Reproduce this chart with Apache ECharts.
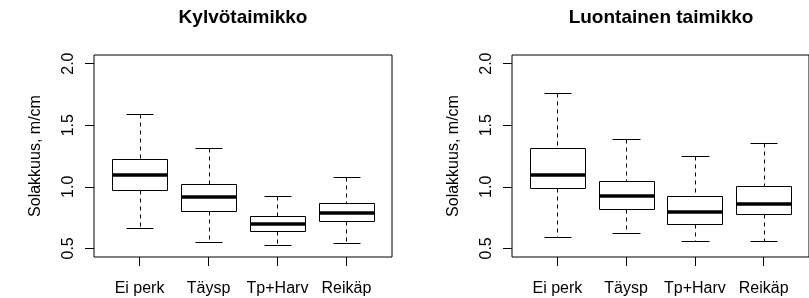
<!DOCTYPE html>
<html>
<head>
<meta charset="utf-8">
<title>Solakkuus</title>
<script src="https://cdn.jsdelivr.net/npm/echarts@6/dist/echarts.min.js"></script>
<style>
  html, body { margin: 0; padding: 0; background: #fff; }
  #main { width: 809px; height: 298px; }
</style>
</head>
<body>
<div id="main"></div>
<script type="text/javascript">
// luokat ja tikit
var categories = ['Ei perk', 'Täysp', 'Tp+Harv', 'Reikäp'];
var yTicks = [0.5, 1.0, 1.5, 2.0];
var panelTitles = ['Kylvötaimikko', 'Luontainen taimikko'];

// Kylvötaimikko: min, Q1, mediaani, Q3, max
var kylvoMin = [0.666, 0.552, 0.525, 0.541];
var kylvoQ1  = [0.972, 0.804, 0.641, 0.722];
var kylvoMed = [1.094, 0.915, 0.701, 0.790];
var kylvoQ3  = [1.227, 1.026, 0.763, 0.872];
var kylvoMax = [1.588, 1.317, 0.923, 1.080];

// Luontainen taimikko
var luontMin = [0.589, 0.625, 0.557, 0.557];
var luontQ1  = [0.988, 0.820, 0.701, 0.782];
var luontMed = [1.094, 0.923, 0.796, 0.864];
var luontQ3  = [1.317, 1.051, 0.929, 1.010];
var luontMax = [1.764, 1.384, 1.249, 1.357];

var FONT = 'Liberation Sans, Arial, sans-serif';

function boxData(mins, q1, med, q3, maxs) {
    var out = [];
    for (var i = 0; i < categories.length; i++) {
        out.push([i + 1, mins[i], q1[i], med[i], q3[i], maxs[i]]);
    }
    return out;
}

function px(v) { return Math.round(v) + 0.5; }

// R-tyylinen laatikko: katkoviivaviikset, paksu mediaani
function renderBox(params, api) {
    var x = api.value(0);
    var lo = api.coord([x, api.value(1)]);
    var q1 = api.coord([x, api.value(2)]);
    var md = api.coord([x, api.value(3)]);
    var q3 = api.coord([x, api.value(4)]);
    var hi = api.coord([x, api.value(5)]);
    var bw = api.size([0.8, 0])[0];
    var cx = px(lo[0]);
    var l = px(lo[0] - bw / 2), r = px(lo[0] + bw / 2);
    var cl = px(lo[0] - bw / 4), cr = px(lo[0] + bw / 4);
    var black = {stroke: '#000', lineWidth: 1, fill: null};
    var dashed = {stroke: '#000', lineWidth: 1, lineDash: [4, 4]};
    return {
        type: 'group',
        children: [
            {type: 'line', shape: {x1: cx, y1: px(hi[1]), x2: cx, y2: px(q3[1])}, style: dashed},
            {type: 'line', shape: {x1: cx, y1: px(q1[1]), x2: cx, y2: px(lo[1])}, style: dashed},
            {type: 'line', shape: {x1: cl, y1: px(hi[1]), x2: cr, y2: px(hi[1])}, style: black},
            {type: 'line', shape: {x1: cl, y1: px(lo[1]), x2: cr, y2: px(lo[1])}, style: black},
            {type: 'rect', shape: {x: l, y: px(q3[1]), width: r - l, height: px(q1[1]) - px(q3[1])},
             style: {stroke: '#000', lineWidth: 1, fill: '#fff'}},
            {type: 'line', shape: {x1: l, y1: Math.round(md[1]), x2: r, y2: Math.round(md[1])},
             style: {stroke: '#000', lineWidth: 3.5}}
        ]
    };
}

var grids = [
    {left: 94, top: 55, width: 298, height: 202},
    {left: 512, top: 55, width: 298, height: 202}
];

var xAxes = [], yAxes = [];
grids.forEach(function (g, i) {
    xAxes.push({
        type: 'value', gridIndex: i, min: 0.34, max: 4.66,
        axisLine: {show: false},
        splitLine: {show: false},
        axisTick: {show: true, length: 9, customValues: [1, 2, 3, 4],
                   lineStyle: {color: '#000', width: 1}},
        axisLabel: {customValues: [1, 2, 3, 4], margin: 24,
                    color: '#000', fontFamily: FONT, fontSize: 16,
                    formatter: function (v) { return categories[Math.round(v) - 1]; }}
    });
    yAxes.push({
        type: 'value', gridIndex: i, min: 0.43, max: 2.07,
        name: 'Solakkuus, m/cm', nameLocation: 'middle', nameGap: 50,
        nameTextStyle: {color: '#000', fontFamily: FONT, fontSize: 16},
        axisLine: {show: false},
        splitLine: {show: false},
        axisTick: {show: true, length: 9, customValues: yTicks,
                   lineStyle: {color: '#000', width: 1}},
        axisLabel: {customValues: yTicks, rotate: 90, margin: 17,
                    color: '#000', fontFamily: FONT, fontSize: 16,
                    formatter: function (v) { return v.toFixed(1); }}
    });
});

var myChart = echarts.init(document.getElementById('main'), null, {renderer: 'canvas'});
myChart.setOption({
    animation: false,
    backgroundColor: '#fff',
    title: [
        {text: panelTitles[0], left: 243, top: 8, textAlign: 'center', padding: 0,
         textStyle: {fontFamily: FONT, fontSize: 19, fontWeight: 'bold', color: '#000'}},
        {text: panelTitles[1], left: 661, top: 8, textAlign: 'center', padding: 0,
         textStyle: {fontFamily: FONT, fontSize: 19, fontWeight: 'bold', color: '#000'}}
    ],
    grid: grids.map(function (g) {
        return Object.assign({show: true, borderColor: '#000', borderWidth: 1,
                              backgroundColor: 'transparent'}, g);
    }),
    xAxis: xAxes,
    yAxis: yAxes,
    series: [
        {type: 'custom', xAxisIndex: 0, yAxisIndex: 0, renderItem: renderBox,
         data: boxData(kylvoMin, kylvoQ1, kylvoMed, kylvoQ3, kylvoMax)},
        {type: 'custom', xAxisIndex: 1, yAxisIndex: 1, renderItem: renderBox,
         data: boxData(luontMin, luontQ1, luontMed, luontQ3, luontMax)}
    ]
});
</script>
</body>
</html>
